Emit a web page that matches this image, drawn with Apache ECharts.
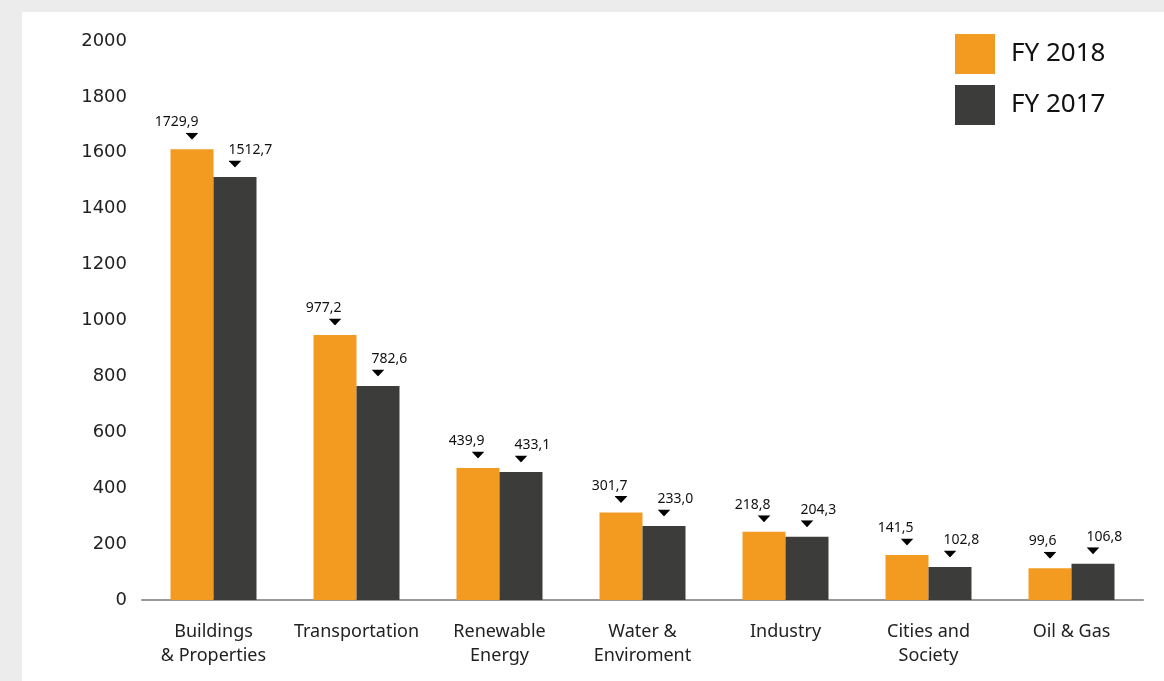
<!DOCTYPE html>
<html>
<head>
<meta charset="utf-8">
<script src="https://cdn.jsdelivr.net/npm/echarts@6/dist/echarts.min.js"></script>
<style>
  html, body { margin: 0; padding: 0; background: #ececec; }
  #panel { position: absolute; left: 22px; top: 12px; right: 0; bottom: 0; background: #ffffff; }
  #chart { position: absolute; left: 0; top: 0; width: 1164px; height: 681px; }
</style>
</head>
<body>
<div id="panel"></div>
<div id="chart"></div>
<script>
// Categories
const categories = ['Buildings\n& Properties', 'Transportation', 'Renewable\nEnergy', 'Water &\nEnviroment', 'Industry', 'Cities and\nSociety', 'Oil & Gas'];
// Bar heights as drawn in the picture
const fy2018 = [1613, 948, 472, 313, 244, 161, 114];
const fy2017 = [1513, 766, 458, 265, 226, 118, 130];
// Value labels as printed above the bars
const fy2018Labels = ['1729,9', '977,2', '439,9', '301,7', '218,8', '141,5', '99,6'];
const fy2017Labels = ['1512,7', '782,6', '433,1', '233,0', '204,3', '102,8', '106,8'];
// Y ticks
const yMin = 0, yMax = 2000, yStep = 200;

const triangle = 'data:image/svg+xml;charset=utf-8,' + encodeURIComponent(
  '<svg xmlns="http://www.w3.org/2000/svg" width="13" height="7"><polygon points="0,0 13,0 6.5,7" fill="#000"/></svg>');

function makeLabel(texts, side) {
  return {
    show: true,
    position: 'top',
    distance: 6,
    align: side,
    offset: [side === 'right' ? 6.5 : -6.5, 0],
    formatter: function (p) { return '{t|' + texts[p.dataIndex] + '}\n{a|}'; },
    rich: {
      t: { fontFamily: 'Noto Sans', fontSize: 14, color: '#111', lineHeight: 14, align: side },
      a: { width: 13, height: 7, lineHeight: 14, align: side, backgroundColor: { image: triangle } }
    }
  };
}

const chart = echarts.init(document.getElementById('chart'), null, { renderer: 'canvas' });
chart.setOption({
  backgroundColor: 'transparent',
  animation: false,
  grid: { left: 142, right: 21, top: 41, bottom: 81, containLabel: false },
  legend: {
    orient: 'vertical',
    left: 955,
    top: 34,
    padding: 0,
    itemWidth: 40,
    itemHeight: 40,
    itemGap: 11,
    icon: 'rect',
    data: ['FY 2018', 'FY 2017'],
    textStyle: { fontFamily: 'Noto Sans', fontSize: 26, color: '#111', padding: [0, 0, 0, 11] }
  },
  xAxis: {
    type: 'category',
    data: categories,
    axisLine: { show: true, lineStyle: { color: '#999', width: 2 } },
    axisTick: { show: false },
    axisLabel: { margin: 20, fontFamily: 'Noto Sans', fontSize: 18, lineHeight: 24, color: '#222', interval: 0 }
  },
  yAxis: {
    type: 'value',
    min: yMin,
    max: yMax,
    interval: yStep,
    axisLine: { show: false },
    axisTick: { show: false },
    splitLine: { show: false },
    axisLabel: { margin: 15, fontFamily: 'DejaVu Sans', fontSize: 18, color: '#222', formatter: function (v) { return String(v); } }
  },
  series: [
    {
      name: 'FY 2018', type: 'bar', data: fy2018, barWidth: 43, barGap: '0%',
      itemStyle: { color: '#F39B21' },
      label: makeLabel(fy2018Labels, 'right')
    },
    {
      name: 'FY 2017', type: 'bar', data: fy2017, barWidth: 43, barGap: '0%',
      itemStyle: { color: '#3C3C3B' },
      label: makeLabel(fy2017Labels, 'left')
    }
  ]
});
</script>
</body>
</html>
